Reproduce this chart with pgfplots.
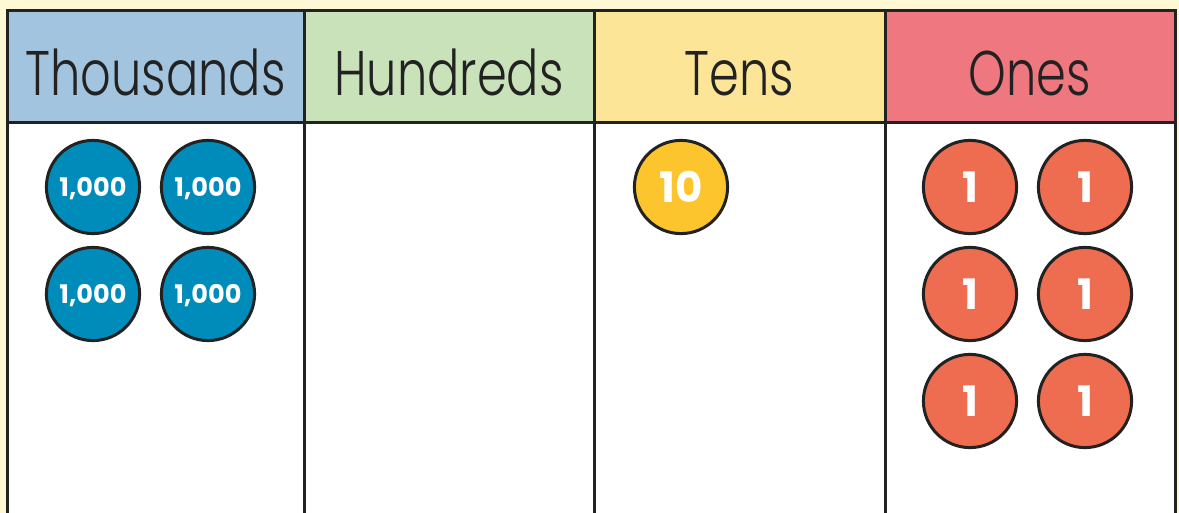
\documentclass[border=0pt]{standalone}
\usepackage{fontspec}
\setmainfont{Poppins}
\newfontfamily\headfont{Poppins Light}[FakeStretch=0.76]
\usepackage{pgfplots}
\usepackage{pgfplotstable}
\pgfplotsset{compat=1.18}
\definecolor{bgY}{HTML}{FFF8D4}
\definecolor{hThou}{HTML}{A3C4DE}
\definecolor{hHund}{HTML}{C9E2BA}
\definecolor{hTens}{HTML}{FDE598}
\definecolor{hOnes}{HTML}{EF7880}
\definecolor{cBlue}{HTML}{008CBA}
\definecolor{cYel}{HTML}{FDC52D}
\definecolor{cRed}{HTML}{EE6C4F}
\definecolor{ink}{HTML}{222222}
\pgfplotstableread{
x y lab
93 187 {1,000}
208 187 {1,000}
93 294 {1,000}
208 294 {1,000}
}\thousands
\pgfplotstableread{
x y lab
681 187 10
}\tens
\pgfplotstableread{
x y lab
970 187 1
1085 187 1
970 294 1
1085 294 1
970 401 1
1085 401 1
}\ones
\begin{document}
\begin{tikzpicture}
\begin{axis}[
  width=589.5pt, height=256.5pt, scale only axis,
  xmin=0, xmax=1179, ymin=0, ymax=513, y dir=reverse,
  hide axis, clip=true,
]
% background
\addplot[fill=bgY, draw=none] coordinates {(0,0) (1179,0) (1179,513) (0,513)};
% body
\addplot[fill=white, draw=none] coordinates {(7.5,123) (1175.5,123) (1175.5,520) (7.5,520)};
% headers
\addplot[fill=hThou, draw=none] coordinates {(7.5,11) (304,11) (304,123) (7.5,123)};
\addplot[fill=hHund, draw=none] coordinates {(304,11) (594.5,11) (594.5,123) (304,123)};
\addplot[fill=hTens, draw=none] coordinates {(594.5,11) (885,11) (885,123) (594.5,123)};
\addplot[fill=hOnes, draw=none] coordinates {(885,11) (1175.5,11) (1175.5,123) (885,123)};
% grid lines
\addplot[draw=ink, line width=1.5pt] coordinates {(7.5,530) (7.5,11) (1175.5,11) (1175.5,530)};
\addplot[draw=ink, line width=1.5pt] coordinates {(7.5,123) (1175.5,123)};
\addplot[draw=ink, line width=1.5pt] coordinates {(304,11) (304,530)};
\addplot[draw=ink, line width=1.5pt] coordinates {(594.5,11) (594.5,530)};
\addplot[draw=ink, line width=1.5pt] coordinates {(885,11) (885,530)};
% discs
\addplot[only marks, mark=*, mark size=23.3pt,
  mark options={fill=cBlue, draw=ink, line width=1.5pt},
  point meta=explicit symbolic, nodes near coords, nodes near coords align=center,
  every node near coord/.append style={text=white, yshift=-0.6pt, font=\fontsize{12.8}{12.8}\selectfont\bfseries}]
  table[x=x, y=y, meta=lab] {\thousands};
\addplot[only marks, mark=*, mark size=23.3pt,
  mark options={fill=cYel, draw=ink, line width=1.5pt},
  point meta=explicit symbolic, nodes near coords, nodes near coords align=center,
  every node near coord/.append style={text=white, font=\fontsize{21}{21}\selectfont\bfseries}]
  table[x=x, y=y, meta=lab] {\tens};
\addplot[only marks, mark=*, mark size=23.3pt,
  mark options={fill=cRed, draw=ink, line width=1.5pt},
  point meta=explicit symbolic, nodes near coords, nodes near coords align=center,
  every node near coord/.append style={text=white, font=\fontsize{21}{21}\selectfont\bfseries}]
  table[x=x, y=y, meta=lab] {\ones};
% header text
\node[anchor=base, text=ink, font=\headfont\fontsize{31.5}{31.5}\selectfont] at (axis cs:155.5,96) {Thousands};
\node[anchor=base, text=ink, font=\headfont\fontsize{31.5}{31.5}\selectfont] at (axis cs:449,96) {Hundreds};
\node[anchor=base, text=ink, font=\headfont\fontsize{31.5}{31.5}\selectfont] at (axis cs:739.5,96) {Tens};
\node[anchor=base, text=ink, font=\headfont\fontsize{31.5}{31.5}\selectfont] at (axis cs:1030,96) {Ones};
\end{axis}
\end{tikzpicture}
\end{document}
